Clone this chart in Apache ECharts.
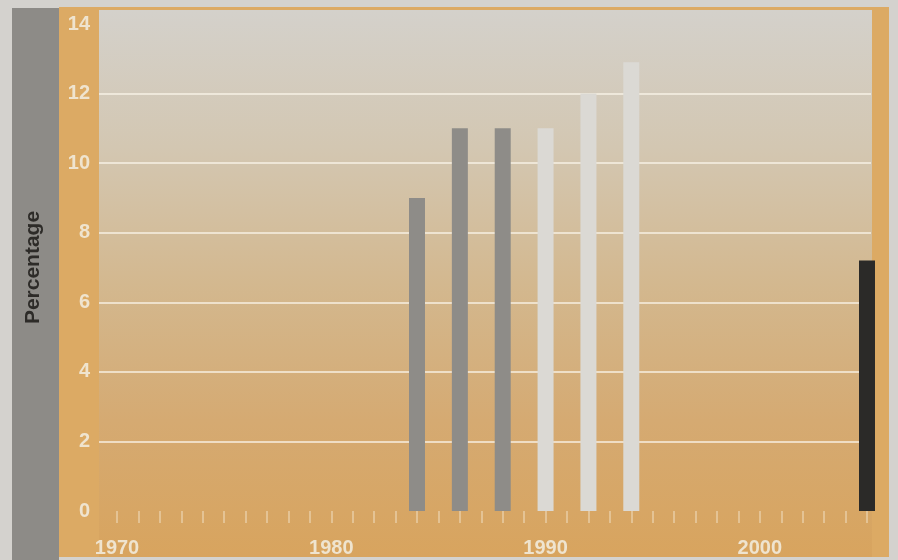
<!DOCTYPE html>
<html>
<head>
<meta charset="utf-8">
<script src="https://cdn.jsdelivr.net/npm/echarts@6/dist/echarts.min.js"></script>
<style>
  html, body { margin: 0; padding: 0; background: #d4d2ce; }
  #chart { width: 898px; height: 560px; }
</style>
</head>
<body>
<div id="chart"></div>
<script>
// Survey years and rates (percent)
const earlyYears = [1984, 1986, 1988];
const earlyValues = [9, 11, 11];
const laterYears = [1990, 1992, 1994];
const laterValues = [11, 12, 12.9];
const latestYears = [2005];
const latestValues = [7.2];
const yTickValues = [0, 2, 4, 6, 8, 10, 12, 14];
const xLabelYears = [1970, 1980, 1990, 2000];

const FONT = '"Liberation Sans", Arial, sans-serif';
const pairs = (xs, ys) => xs.map((x, i) => [x, ys[i]]);

const chart = echarts.init(document.getElementById('chart'), null, { renderer: 'canvas' });

const barBase = {
  type: 'bar',
  xAxisIndex: 1,
  yAxisIndex: 1,
  barWidth: 16,
  barGap: '-100%',
  clip: false,
  silent: true
};

chart.setOption({
  animation: false,
  backgroundColor: '#d4d2ce',
  graphic: [
    // grey band holding the axis title
    { type: 'rect', z: -20, shape: { x: 12, y: 8, width: 47, height: 552 }, style: { fill: '#8d8b87' } },
    // orange frame
    { type: 'rect', z: -20, shape: { x: 59, y: 7, width: 830, height: 550 }, style: { fill: '#dcaa64' } },
    // plot panel, grey fading into orange
    {
      type: 'rect', z: -19,
      shape: { x: 99, y: 10, width: 773, height: 547 },
      style: {
        fill: new echarts.graphic.LinearGradient(0, 0, 0, 1, [
          { offset: 0, color: '#d4d1cb' },
          { offset: 0.25, color: '#d3c7b2' },
          { offset: 0.5, color: '#d3b88f' },
          { offset: 0.75, color: '#d5aa72' },
          { offset: 1, color: '#d8a45e' }
        ])
      }
    }
  ],
  grid: [
    { left: 99, right: 27, top: 24, bottom: 49 },
    { left: 117, right: 31, top: 24, bottom: 49 }
  ],
  xAxis: [
    { gridIndex: 0, type: 'value', min: 0, max: 1, show: false },
    {
      gridIndex: 1,
      type: 'value',
      min: xLabelYears[0],
      max: latestYears[0],
      interval: 1,
      axisLine: { show: false },
      splitLine: { show: false },
      axisTick: { show: true, length: 12, lineStyle: { color: 'rgba(248,238,218,0.55)', width: 1.5 } },
      axisLabel: {
        margin: 27,
        color: '#efe4cf',
        fontFamily: FONT,
        fontWeight: 'bold',
        fontSize: 20,
        formatter: v => (xLabelYears.indexOf(v) >= 0 ? String(v) : '')
      }
    }
  ],
  yAxis: [
    {
      gridIndex: 0,
      type: 'value',
      min: yTickValues[0],
      max: yTickValues[yTickValues.length - 1],
      interval: 2,
      name: 'Percentage',
      nameLocation: 'middle',
      nameRotate: 90,
      nameGap: 55,
      nameTextStyle: { color: '#2d2b28', fontFamily: FONT, fontWeight: 'bold', fontSize: 21 },
      axisLine: { show: false },
      axisTick: { show: false },
      axisLabel: {
        margin: 9,
        color: '#efe4cf',
        fontFamily: FONT,
        fontWeight: 'bold',
        fontSize: 20,
        formatter: v => (yTickValues.indexOf(v) >= 0 ? String(v) : '')
      },
      splitLine: {
        show: true,
        showMinLine: false,
        showMaxLine: false,
        lineStyle: { color: 'rgba(250,244,232,0.7)', width: 2 }
      }
    },
    {
      gridIndex: 1,
      type: 'value',
      min: yTickValues[0],
      max: yTickValues[yTickValues.length - 1],
      show: false,
      splitLine: { show: false }
    }
  ],
  series: [
    Object.assign({}, barBase, { name: 'early', data: pairs(earlyYears, earlyValues), itemStyle: { color: '#8e8c88' } }),
    Object.assign({}, barBase, { name: 'latest', data: pairs(latestYears, latestValues), itemStyle: { color: '#2b2a28' } }),
    Object.assign({}, barBase, { name: 'later', data: pairs(laterYears, laterValues), itemStyle: { color: '#dbd9d4' } })
  ]
});
</script>
</body>
</html>
